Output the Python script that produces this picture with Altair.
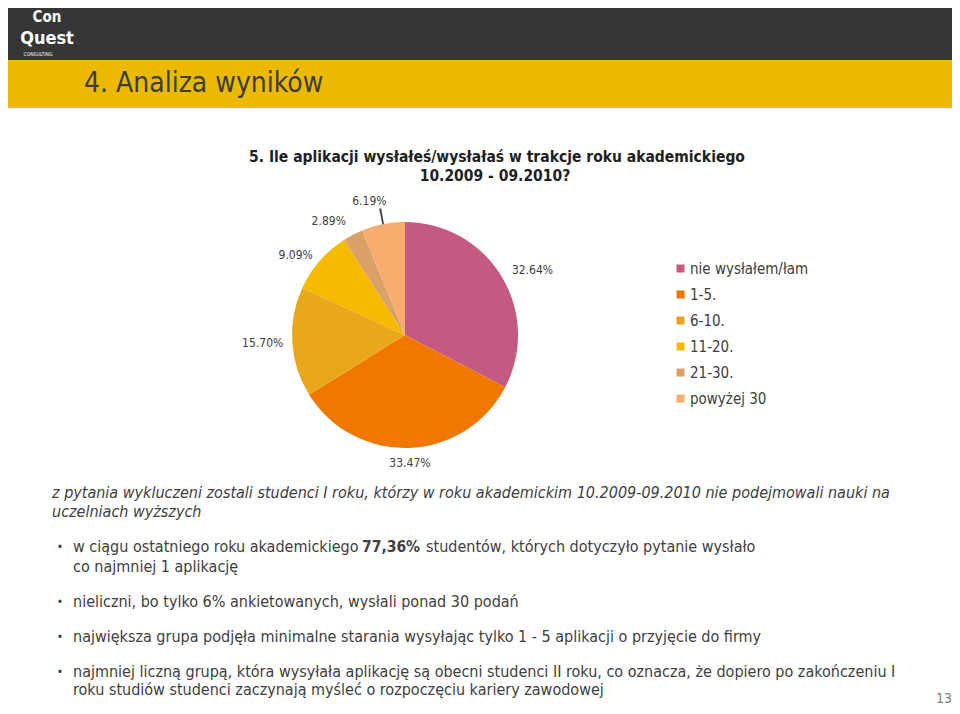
import json
import math
import altair as alt
import pandas as pd

# ---------------- data ----------------
categories = ["nie wysłałem/łam", "1-5.", "6-10.", "11-20.", "21-30.", "powyżej 30"]
shares = [32.64, 33.47, 15.70, 9.09, 2.89, 6.19]
slice_colors = ["#C45A82", "#F07800", "#E9A71C", "#F6BA00", "#D9A068", "#F8AD6E"]

slide_title = "4. Analiza wyników"
chart_title = ["5. Ile aplikacji wysłałeś/wysłałaś w trakcje roku akademickiego",
               "10.2009 - 09.2010?"]
note_lines = ["z pytania wykluczeni zostali studenci I roku, którzy w roku akademickim 10.2009-09.2010 nie podejmowali nauki na",
              "uczelniach wyższych"]
bullet1 = ["w ciągu ostatniego roku akademickiego", "77,36%",
           "studentów, których dotyczyło pytanie wysłało", "co najmniej 1 aplikację"]
bullet2 = ["nieliczni, bo tylko 6% ankietowanych, wysłali ponad 30 podań"]
bullet3 = ["największa grupa podjęła minimalne starania wysyłając tylko 1 - 5 aplikacji o przyjęcie do firmy"]
bullet4 = ["najmniej liczną grupą, która wysyłała aplikację są obecni studenci II roku, co oznacza, że dopiero po zakończeniu I",
           "roku studiów studenci zaczynają myśleć o rozpoczęciu kariery zawodowej"]
logo = ["Con", "Quest", "CONSULTING"]
page_number = "13"

# ---------------- layout ----------------
W, H = 944, 698
FONT = "DejaVu Sans Condensed"
TXT = "#404040"
BODY = 16
CX, CY, R = 397, 327, 113

pie_df = pd.DataFrame({"cat": categories, "val": shares, "idx": list(range(len(categories)))})
total = float(sum(shares))
theta_scale = alt.Scale(domain=[0, total], range=[0, 2 * math.pi])
dummy = alt.Data(values=[{"a": 1}])


def rect(x, x2, y, y2, color):
    return alt.Chart(dummy).mark_rect(color=color).encode(
        x=alt.value(x), x2=alt.value(x2), y=alt.value(y), y2=alt.value(y2))


def txt(s, x, y, size=BODY, color=TXT, align="left", weight="normal", style="normal", font=FONT, baseline="middle"):
    return alt.Chart(alt.Data(values=[{"t": s}])).mark_text(
        align=align, baseline=baseline, fontSize=size, color=color, fontWeight=weight,
        fontStyle=style, font=font).encode(x=alt.value(x), y=alt.value(y), text="t:N")


color_enc = alt.Color(
    "cat:N",
    scale=alt.Scale(domain=categories, range=slice_colors),
    sort=categories,
    legend=alt.Legend(title=None, orient="none", legendX=665, legendY=253,
                      symbolType="square", symbolSize=64, symbolStrokeWidth=0,
                      labelFont=FONT, labelFontSize=15, labelColor=TXT,
                      rowPadding=10, labelOffset=2, padding=0),
)

pie = alt.Chart(pie_df).mark_arc(outerRadius=R).encode(
    theta=alt.Theta("val:Q", stack=True, scale=theta_scale),
    order=alt.Order("idx:Q"),
    color=color_enc,
    x=alt.value(CX), y=alt.value(CY),
)


def pie_labels(cats, radius, align, dx=0, dy=0):
    test = f"indexof({json.dumps(cats, ensure_ascii=False)}, datum.cat) >= 0"
    return alt.Chart(pie_df).transform_calculate(
        lbl=f"{test} ? format(datum.val, '.2f') + '%' : ''"
    ).mark_text(radius=radius, align=align, baseline="middle", dx=dx, dy=dy,
                font=FONT, fontSize=12, color=TXT).encode(
        theta=alt.Theta("val:Q", stack=True, scale=theta_scale),
        order=alt.Order("idx:Q"),
        x=alt.value(CX), y=alt.value(CY),
        text="lbl:N",
    )


leader = alt.Chart(pie_df).transform_window(
    cum="sum(val)", sort=[alt.SortField("idx")], frame=[None, 0]
).transform_calculate(
    t1="datum.cum - datum.val / 2 - 0.12", t2="datum.cum - datum.val / 2 + 0.12"
).transform_filter(
    alt.datum.cat == categories[5]
).mark_arc(innerRadius=R, outerRadius=R + 16, color="#404040").encode(
    theta=alt.Theta("t1:Q", scale=theta_scale), theta2="t2:Q",
    x=alt.value(CX), y=alt.value(CY),
)

layers = [
    rect(0, W, 0, 52, "#363636"),
    rect(0, W, 52, 100, "#EBBA00"),
    txt(logo[0], 39, 9, size=15, color="white", align="center", weight="bold"),
    txt(logo[1], 39, 31, size=18, color="white", align="center", weight="bold"),
    txt(logo[2], 30, 46, size=5, color="white", align="center"),
    txt(slide_title, 76, 76, size=28, color="#3C3C3C"),
    txt(chart_title[0], 489, 149, size=15.5, color="#1F1F1F", align="center", weight="bold"),
    txt(chart_title[1], 487, 168, size=15.5, color="#1F1F1F", align="center", weight="bold"),
    pie,
    leader,
    pie_labels([categories[0]], 125, "left"),
    pie_labels([categories[1]], 128, "center"),
    pie_labels([categories[2], categories[3]], 122, "right"),
    pie_labels([categories[4]], 128, "right"),
    pie_labels([categories[5]], 137, "right", dx=8),
    txt(note_lines[0], 44, 485, style="italic"),
    txt(note_lines[1], 44, 504, style="italic"),
]

bullet_rows = [539, 594, 629, 664]
for yy in bullet_rows:
    layers.append(txt("•", 52, yy, size=12, align="center"))

layers += [
    txt(bullet1[0], 65, 539),
    txt(bullet1[1], 354, 539, size=15.5, weight="bold"),
    txt(bullet1[2], 418, 539),
    txt(bullet1[3], 65, 559),
    txt(bullet2[0], 65, 594),
    txt(bullet3[0], 65, 629),
    txt(bullet4[0], 65, 664),
    txt(bullet4[1], 65, 682),
    txt(page_number, 936, 691, size=14, color="#7F7F7F", align="center"),
]

chart = alt.layer(*layers).properties(
    width=W, height=H, padding=0, autosize="none", background="white"
).configure_view(stroke=None)

chart.save("out.html", embed_options={"renderer": "svg", "actions": False})
